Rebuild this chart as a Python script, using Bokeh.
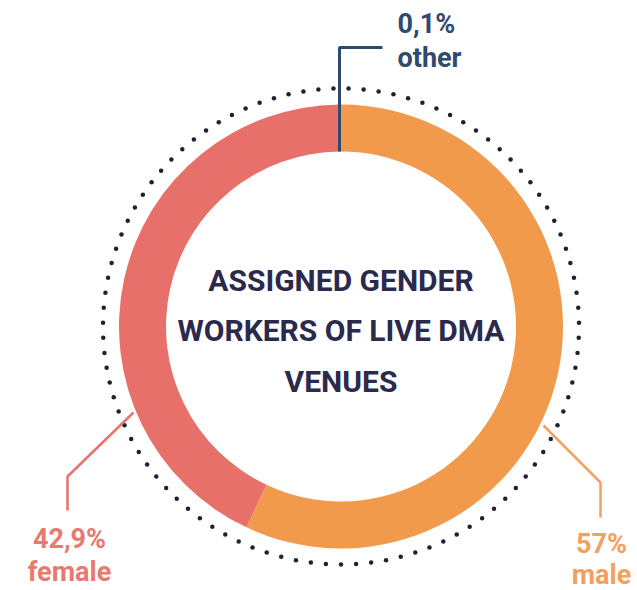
import numpy as np
from bokeh.plotting import figure
from bokeh.models import Range1d, ColumnDataSource
from bokeh.core.properties import value
from bokeh.embed import file_html
from bokeh.resources import INLINE

# ---- data ----
categories = ["male", "female", "other"]
shares = [57.0, 42.9, 0.1]
share_labels = ["57%", "42,9%", "0,1%"]
title_lines = ["ASSIGNED GENDER", "WORKERS OF LIVE DMA", "VENUES"]

# ---- style ----
wedge_colors = ["#F19A4B", "#E8706A", "#2E4A6E"]
text_colors = ["#F1A15E", "#E67A70", "#2E4A6E"]
line_colors = ["#F1A15E", "#E8736B", "#2E4A6E"]

W, H = 637, 590
TXT = 12  # observed downward offset of alphabetic baseline in the renderer
def Y(py):  # picture pixel y -> data y
    return H - py
def YT(py):  # baseline in picture pixels -> data y for text
    return H - py + TXT

cx, cy = 340.5, Y(326)
r_out, r_in, r_dots = 222, 175, 238

p = figure(width=W, height=H, x_range=Range1d(0, W), y_range=Range1d(0, H),
           output_backend="svg", toolbar_location=None, min_border=0)
p.axis.visible = False
p.grid.visible = False
p.outline_line_color = None
p.background_fill_color = "white"
p.border_fill_color = "white"

# dotted ring
n_dots = 99
a = np.pi / 2 + (np.arange(n_dots) + 0.5) * 2 * np.pi / n_dots
p.scatter(cx + r_dots * np.cos(a), cy + r_dots * np.sin(a), size=4.5,
          color="#1E2033", line_color=None)

# donut
vals = np.array(shares)
cum_end = np.cumsum(vals) / vals.sum()
cum_start = cum_end - vals / vals.sum()
src = ColumnDataSource(dict(
    start=np.pi / 2 - 2 * np.pi * cum_start,
    end=np.pi / 2 - 2 * np.pi * cum_end,
    color=wedge_colors, cat=categories))
p.annular_wedge(x=cx, y=cy, inner_radius=r_in, outer_radius=r_out,
                start_angle="start", end_angle="end", direction="clock",
                color="color", line_color=None, source=src)

# leader lines (picture pixel coordinates)
leaders = {
    "male": [(543, 425), (600, 482), (600, 517)],
    "female": [(133, 412), (67, 476), (67, 510)],
    "other": [(339, 151), (339, 47), (382, 47)],
}
widths = {"male": 2.5, "female": 2.5, "other": 3}
for i, c in enumerate(categories):
    pts = leaders[c]
    p.line([q[0] for q in pts], [Y(q[1]) for q in pts], line_color=line_colors[i],
           line_width=widths[c])

# labels: (x, baseline pct, baseline name, align)
label_pos = {
    "male": (601, 555, 586, "center"),
    "female": (69, 550, 583, "center"),
    "other": (397, 35, 69, "left"),
}
for i, c in enumerate(categories):
    x, b1, b2, al = label_pos[c]
    p.text(x=[x, x], y=[YT(b1), YT(b2)], text=[share_labels[i], c],
           text_font=value("Roboto"), text_font_style="bold", text_font_size="27px",
           text_color=text_colors[i], text_align=al, text_baseline="alphabetic")

# title in centre
title_baselines = [292, 342, 393]
p.text(x=[cx] * 3, y=[YT(b) for b in title_baselines], text=title_lines,
       text_font=value("Roboto"), text_font_style="bold",
       text_font_size="30px", text_color="#2B2A4C", text_align="center",
       text_baseline="alphabetic")

open("out.html", "w").write(file_html(p, INLINE))
